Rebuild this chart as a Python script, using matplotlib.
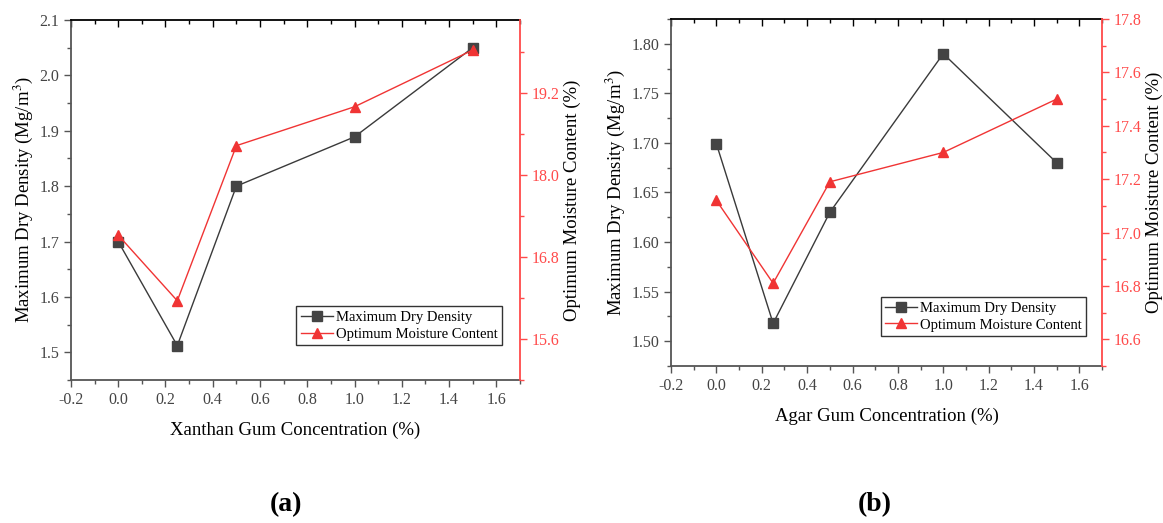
import matplotlib
matplotlib.use("Agg")
import matplotlib.pyplot as plt
from matplotlib.ticker import MultipleLocator, FormatStrFormatter

plt.rcParams['font.family'] = ['Liberation Serif', 'DejaVu Serif']
plt.rcParams['mathtext.fontset'] = 'stix'

# data
conc = [0.0, 0.25, 0.5, 1.0, 1.5]
mdd_xanthan = [1.70, 1.512, 1.80, 1.889, 2.05]
omc_xanthan = [17.12, 16.16, 18.43, 19.00, 19.83]
mdd_agar = [1.699, 1.518, 1.63, 1.79, 1.68]
omc_agar = [17.12, 16.81, 17.19, 17.30, 17.50]

GREY = '#3a3a3a'
RED = '#f03434'
RED_TICK = '#ff4a4a'

fig = plt.figure(figsize=(11.63, 5.23), dpi=100)


def panel(rect, mdd, omc, xlabel, ylim1, ystep1, fmt1, ylim2, ystep2, fmt2, leg_anchor):
    ax = fig.add_axes(rect)
    ax2 = ax.twinx()

    l1, = ax.plot(conc, mdd, color=GREY, lw=1.0, marker='s', ms=6.5,
                  mfc='#444444', mec='#444444', label='Maximum Dry Density')
    l2, = ax2.plot(conc, omc, color=RED, lw=1.0, marker='^', ms=7,
                   mfc=RED, mec=RED, label='Optimum Moisture Content')

    ax.set_xlim(-0.2, 1.7)
    ax.set_ylim(*ylim1)
    ax2.set_ylim(*ylim2)

    ax.xaxis.set_major_locator(MultipleLocator(0.2))
    ax.xaxis.set_minor_locator(MultipleLocator(0.1))
    ax.xaxis.set_major_formatter(FormatStrFormatter('%.1f'))
    ax.yaxis.set_major_locator(MultipleLocator(ystep1))
    ax.yaxis.set_minor_locator(MultipleLocator(ystep1 / 2))
    ax.yaxis.set_major_formatter(FormatStrFormatter(fmt1))
    ax2.yaxis.set_major_locator(MultipleLocator(ystep2))
    ax2.yaxis.set_minor_locator(MultipleLocator(ystep2 / 2))
    ax2.yaxis.set_major_formatter(FormatStrFormatter(fmt2))

    ax.tick_params(axis='both', which='major', direction='out', length=5,
                   width=1, colors='#555555', labelsize=11.5, labelcolor='#444444')
    ax.tick_params(axis='both', which='minor', direction='out', length=3,
                   width=1, colors='#555555')
    ax2.tick_params(axis='y', which='major', direction='out', length=5,
                    width=1, colors=RED_TICK, labelsize=11.5)
    ax2.tick_params(axis='y', which='minor', direction='out', length=3,
                    width=1, colors=RED_TICK)

    # mirrored ticks on the top spine, pointing inward
    top = ax.secondary_xaxis('top')
    top.xaxis.set_major_locator(MultipleLocator(0.2))
    top.xaxis.set_minor_locator(MultipleLocator(0.1))
    top.tick_params(which='both', direction='in', labeltop=False, colors='black')
    top.tick_params(which='major', length=5, width=1)
    top.tick_params(which='minor', length=3, width=1)
    top.spines['top'].set_visible(False)

    for s in ['left', 'bottom']:
        ax.spines[s].set_color('#555555')
        ax.spines[s].set_linewidth(1.3)
    ax.spines['top'].set_color('black')
    ax.spines['top'].set_linewidth(1.3)
    ax2.spines['right'].set_color(RED_TICK)
    ax2.spines['right'].set_linewidth(1.3)
    ax2.spines['left'].set_visible(False)
    ax2.spines['top'].set_visible(False)
    ax2.spines['bottom'].set_visible(False)
    ax.spines['right'].set_visible(False)

    ax.set_xlabel(xlabel, fontsize=13.5, labelpad=10)
    ax.set_ylabel('Maximum Dry Density (Mg/m$^3$)', fontsize=13.5, labelpad=3)
    ax2.set_ylabel('Optimum Moisture Content (%)', fontsize=13.5, labelpad=3)

    leg = ax2.legend([l1, l2], [l1.get_label(), l2.get_label()],
                     loc='lower right', bbox_to_anchor=leg_anchor,
                     bbox_transform=fig.transFigure, fontsize=10.5,
                     frameon=True, fancybox=False, borderaxespad=0,
                     handlelength=2.2, handletextpad=0.2, borderpad=0.3,
                     labelspacing=0.25)
    leg.get_frame().set_edgecolor('black')
    leg.get_frame().set_linewidth(1.0)
    return ax, ax2


panel([0.061, 0.2734, 0.3861, 0.6884], mdd_xanthan, omc_xanthan,
      'Xanthan Gum Concentration (%)', (1.45, 2.1), 0.1, '%.1f',
      (15.0, 20.27), 1.2, '%.1f', (0.4316, 0.3403))

panel([0.577, 0.3002, 0.3706, 0.6635], mdd_agar, omc_agar,
      'Agar Gum Concentration (%)', (1.475, 1.825), 0.05, '%.2f',
      (16.5, 17.8), 0.2, '%.1f', (0.9338, 0.3576))

fig.text(286 / 1163, 1 - 505 / 523, '(a)', fontsize=20, fontweight='bold',
         ha='center', va='center')
fig.text(875 / 1163, 1 - 505 / 523, '(b)', fontsize=20, fontweight='bold',
         ha='center', va='center')

fig.savefig('out.png', dpi=100)
